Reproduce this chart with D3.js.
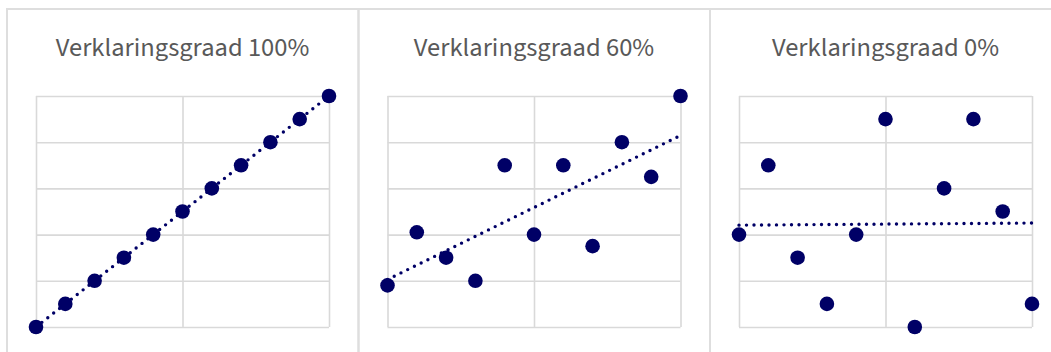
<!DOCTYPE html>
<html>
<head>
<meta charset="utf-8">
<script src="https://cdn.jsdelivr.net/npm/d3@7"></script>
<style>
  html, body { margin: 0; padding: 0; background: #fff; }
  svg { display: block; }
</style>
</head>
<body>
<svg id="chart" width="1051" height="352"></svg>
<script>
// ---- Data ----
const titles = ["Verklaringsgraad 100%", "Verklaringsgraad 60%", "Verklaringsgraad 0%"];
const xValues = [0, 1, 2, 3, 4, 5, 6, 7, 8, 9, 10];
const yPanel100 = [0, 1, 2, 3, 4, 5, 6, 7, 8, 9, 10];
const yPanel60  = [1.8, 4.1, 3, 2, 7, 4, 7, 3.5, 8, 6.5, 10];
const yPanel0   = [4, 7, 3, 1, 4, 9, 0, 6, 9, 5, 1];
const xTicks = [0, 5, 10];
const yTicks = [0, 2, 4, 6, 8, 10];

const series = [yPanel100, yPanel60, yPanel0];

// ---- Layout ----
const svg = d3.select("#chart");
const panelLefts = [7, 358.5, 710];
const panelWidth = 351.5;
const panelTop = 9;
const plotOffsetX = 29;   // plot left relative to panel left
const plotWidth = 293;
const plotTop = 96, plotBottom = 327;
const navy = "#000066";
const grid = "#d9d9d9";

function linReg(xs, ys) {
  const n = xs.length;
  const mx = d3.mean(xs), my = d3.mean(ys);
  let sxy = 0, sxx = 0;
  for (let i = 0; i < n; i++) { sxy += (xs[i]-mx)*(ys[i]-my); sxx += (xs[i]-mx)**2; }
  const b = sxy / sxx;
  return { a: my - b*mx, b };
}

series.forEach((ys, i) => {
  const left = panelLefts[i];
  const g = svg.append("g");

  // panel border
  g.append("rect")
    .attr("x", left).attr("y", panelTop)
    .attr("width", panelWidth).attr("height", 400)
    .attr("fill", "none").attr("stroke", "#dedede").attr("stroke-width", 2);

  const x0 = left + plotOffsetX;
  const x = d3.scaleLinear().domain([0, 10]).range([x0, x0 + plotWidth]);
  const y = d3.scaleLinear().domain([0, 10]).range([plotBottom, plotTop]);

  // title
  g.append("text")
    .attr("x", x0 + plotWidth / 2).attr("y", 56)
    .attr("text-anchor", "middle")
    .attr("font-family", "'Source Sans Pro', 'Source Sans 3', Lato, 'Open Sans', sans-serif")
    .attr("font-size", 26.5)
    .attr("fill", "#595959")
    .text(titles[i]);

  // gridlines via axes
  g.append("g")
    .attr("transform", `translate(0,${plotBottom})`)
    .call(d3.axisBottom(x).tickValues(xTicks).tickSize(-(plotBottom - plotTop)).tickFormat(""))
    .call(a => a.select(".domain").remove())
    .call(a => a.selectAll("line").attr("stroke", grid).attr("stroke-width", 1.6));
  g.append("g")
    .attr("transform", `translate(${x0},0)`)
    .call(d3.axisLeft(y).tickValues(yTicks).tickSize(-plotWidth).tickFormat(""))
    .call(a => a.select(".domain").remove())
    .call(a => a.selectAll("line").attr("stroke", grid).attr("stroke-width", 1.6));

  // trendline
  const r = linReg(xValues, ys);
  g.append("line")
    .attr("x1", x(0)).attr("y1", y(r.a))
    .attr("x2", x(10)).attr("y2", y(r.a + r.b * 10))
    .attr("stroke", navy).attr("stroke-width", 3.4)
    .attr("stroke-linecap", "round")
    .attr("stroke-dasharray", "0 7.5");

  // points
  g.selectAll("circle.pt")
    .data(xValues.map((xv, k) => [xv, ys[k]]))
    .join("circle")
    .attr("class", "pt")
    .attr("cx", d => x(d[0])).attr("cy", d => y(d[1]))
    .attr("r", 7.3)
    .attr("fill", navy);
});
</script>
</body>
</html>
